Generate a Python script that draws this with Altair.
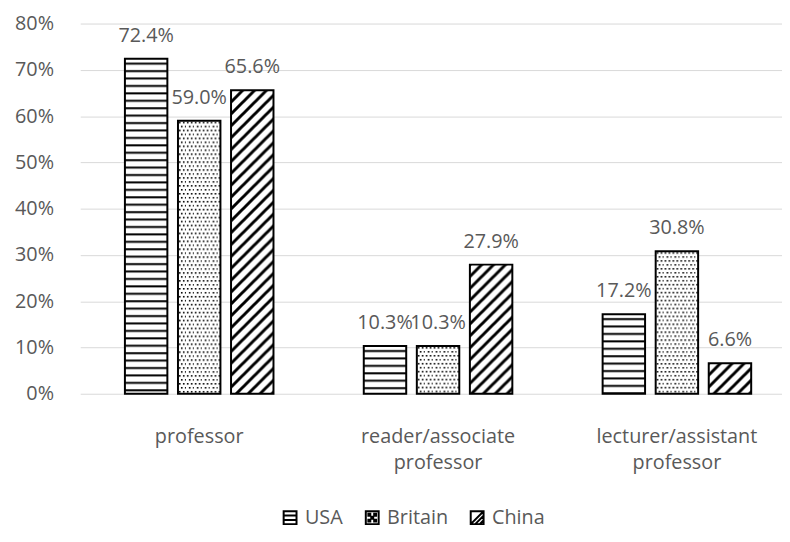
import base64
import altair as alt
import pandas as pd

# ---- data ----
categories = ["professor", "reader/associate professor", "lecturer/assistant professor"]
countries = ["USA", "Britain", "China"]
usa = [72.4, 10.3, 17.2]
britain = [59.0, 10.3, 30.8]
china = [65.6, 27.9, 6.6]
y_ticks = [0, 10, 20, 30, 40, 50, 60, 70, 80]

rows = []
for i, cat in enumerate(categories):
    for country, series in zip(countries, [usa, britain, china]):
        rows.append({"category": cat, "country": country, "value": series[i]})
df = pd.DataFrame(rows)

# ---- fill patterns (styling) ----
def pattern_url(defs):
    svg = ("<svg xmlns='http://www.w3.org/2000/svg' width='100%' height='100%'>"
           "<defs>" + defs + "</defs>"
           "<rect width='100%' height='100%' fill='white'/>"
           "<rect width='100%' height='100%' fill='url(#p)'/></svg>")
    return "data:image/svg+xml;base64," + base64.b64encode(svg.encode()).decode()

patterns = {
    "USA": pattern_url("<pattern id='p' width='10' height='7.5' patternUnits='userSpaceOnUse'>"
                       "<rect x='0' y='4' width='10' height='2' fill='black'/></pattern>"),
    "Britain": pattern_url("<pattern id='p' width='8' height='8' patternUnits='userSpaceOnUse'>"
                           "<rect x='1' y='1' width='1.6' height='1.6' fill='black'/>"
                           "<rect x='5' y='1' width='1.6' height='1.6' fill='black'/>"
                           "<rect x='3' y='5' width='1.6' height='1.6' fill='black'/>"
                           "<rect x='7' y='5' width='1.6' height='1.6' fill='black'/></pattern>"),
    "China": pattern_url("<pattern id='p' width='12' height='12' patternUnits='userSpaceOnUse'>"
                         "<path d='M-3,3 L3,-3 M0,12 L12,0 M9,15 L15,9' stroke='black' stroke-width='3'/></pattern>"),
}
df["pattern"] = df["country"].map(patterns)

legend_shapes = [
    "M-1,-1H1V1H-1Z M-1,-0.35H1 M-1,0.35H1",
    "M-1,-1H1V1H-1Z M-0.6,-0.6h0.3v0.3h-0.3Z M0.3,-0.6h0.3v0.3h-0.3Z M-0.15,-0.15h0.3v0.3h-0.3Z M-0.6,0.3h0.3v0.3h-0.3Z M0.3,0.3h0.3v0.3h-0.3Z",
    "M-1,-1H1V1H-1Z M-1,1L1,-1 M-0.3,1L1,-0.3 M0.4,1L1,0.4",
]

FONT = "Open Sans"
TEXT = "#595959"

x_enc = alt.X(
    "category:N", sort=categories, title=None,
    scale=alt.Scale(range=[2, 725], paddingInner=0.378, paddingOuter=0.187),
    axis=alt.Axis(labelExpr="split(datum.label, ' ')", labelAngle=0),
)
xo_enc = alt.XOffset("country:N", sort=countries,
                     scale=alt.Scale(paddingInner=0.2, paddingOuter=0))
y_enc = alt.Y("value:Q", title=None, scale=alt.Scale(domain=[0, 80]),
              axis=alt.Axis(values=y_ticks, labelExpr="datum.value + '%'"))

base = alt.Chart(df)

fills = base.mark_image(aspect=False).encode(
    x=x_enc, xOffset=xo_enc, y=y_enc, y2=alt.datum(0), url="pattern:N"
)

outlines = base.mark_bar(fillOpacity=0, stroke="black", strokeWidth=2).encode(
    x=x_enc, xOffset=xo_enc, y=y_enc
)

labels = base.transform_calculate(
    label="format(datum.value, '.1f') + '%'"
).mark_text(baseline="alphabetic", dy=-17, fontSize=20, font=FONT, color=TEXT).encode(
    x=x_enc, xOffset=xo_enc, y=y_enc, text="label:N"
)

legend_layer = base.mark_point(opacity=0, fill="white", stroke="black", strokeWidth=2).encode(
    x=x_enc, xOffset=xo_enc, y=y_enc,
    shape=alt.Shape(
        "country:N", sort=countries,
        scale=alt.Scale(domain=countries, range=legend_shapes),
        legend=alt.Legend(
            title=None, orient="none", legendX=204, legendY=489,
            direction="horizontal", symbolSize=169, symbolOpacity=1,
            symbolStrokeWidth=2, labelFontSize=20, labelColor=TEXT, labelFont=FONT,
            labelOffset=5, columnPadding=18,
        ),
    ),
)

chart = alt.layer(fills, outlines, labels, legend_layer).properties(
    width=711, height=374,
    autosize=alt.AutoSizeParams(type="none"),
    padding={"left": 71, "top": 13, "right": 0, "bottom": 139},
).configure_view(stroke=None).configure_axis(
    labelFont=FONT, labelFontSize=20, labelColor=TEXT, ticks=False, domain=False,
).configure_axisY(
    grid=True, gridColor="#d9d9d9", gridWidth=1, labelPadding=25,
).configure_axisX(
    grid=False, labelPadding=33, labelLineHeight=27, labelBaseline="top",
)

chart.save("out.html", embed_options={"renderer": "svg", "actions": False})
